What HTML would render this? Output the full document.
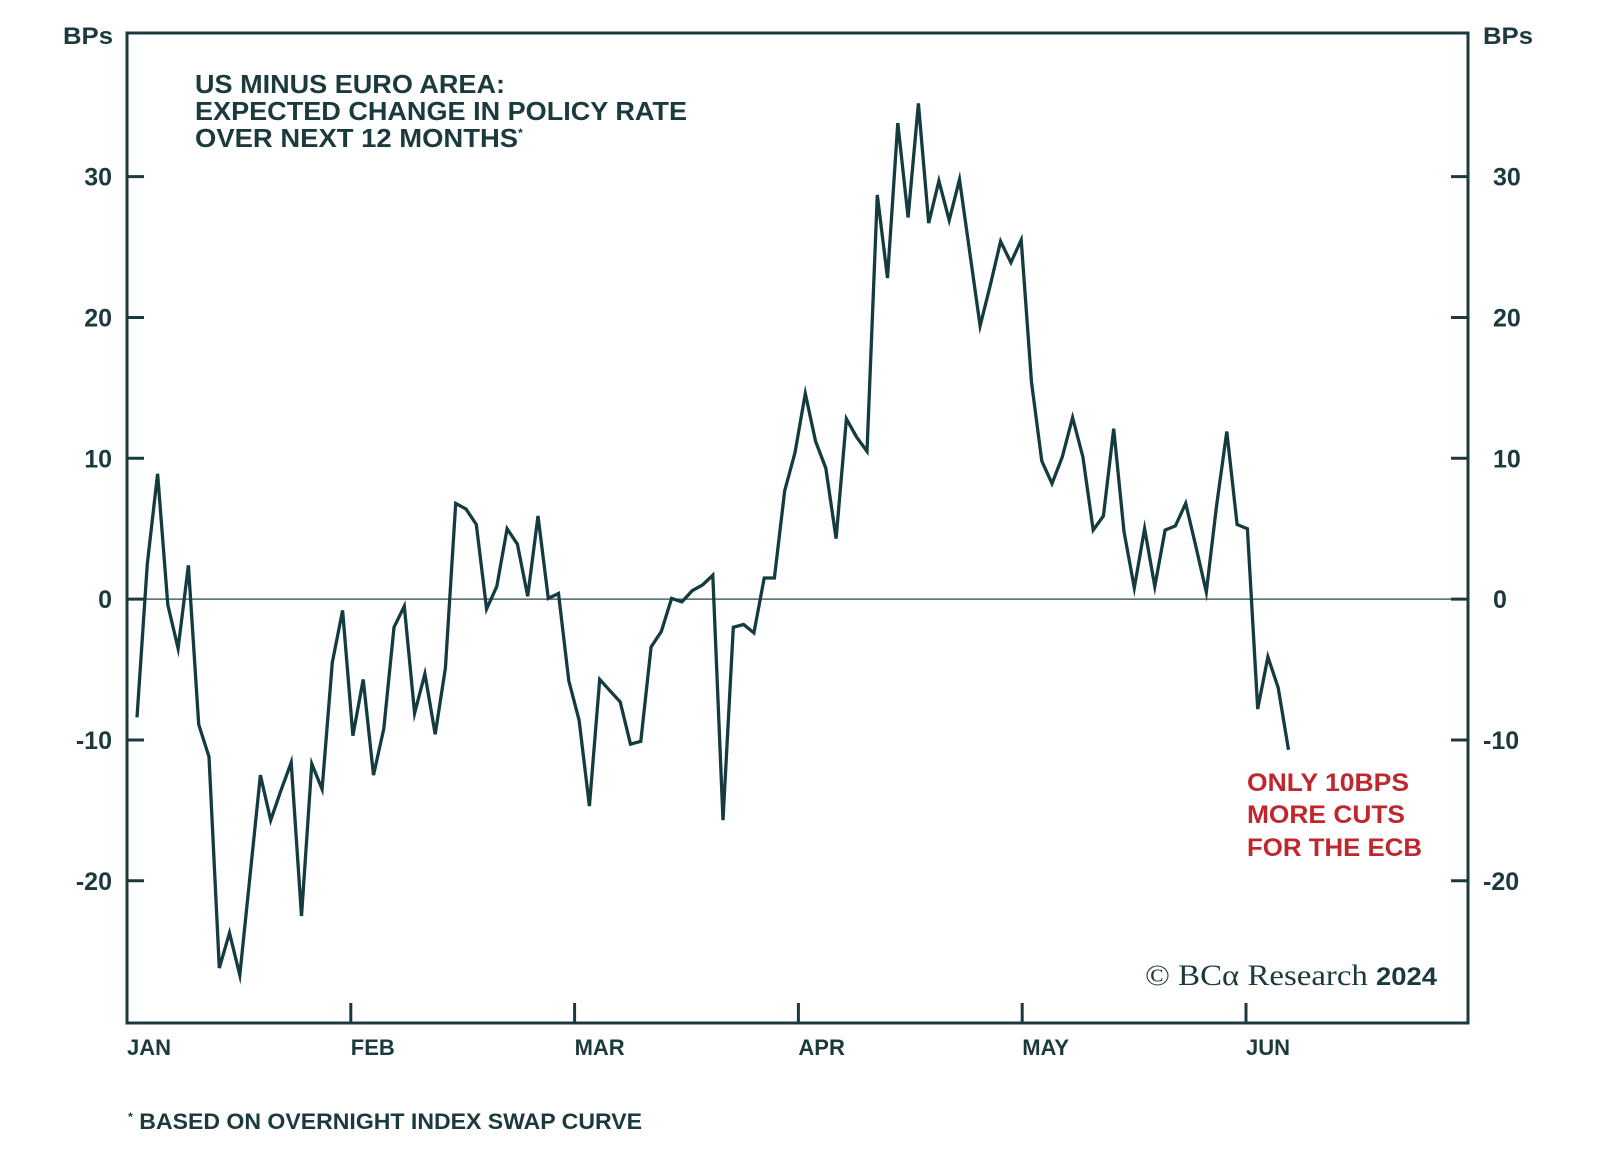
<!DOCTYPE html>
<html><head><meta charset="utf-8"><style>
html,body{margin:0;padding:0;background:#fff;}
svg{display:block;}
text{font-family:"Liberation Sans",sans-serif;fill:#1b3a3d;}
</style></head><body>
<svg id="chart" width="1600" height="1160" viewBox="0 0 1600 1160" xmlns="http://www.w3.org/2000/svg">
<g id="axes"></g>
<g id="series"></g>
<text x="195" y="93" font-size="26" font-weight="bold" textLength="310" lengthAdjust="spacingAndGlyphs">US MINUS EURO AREA:</text>
<text x="195" y="120" font-size="26" font-weight="bold" textLength="492" lengthAdjust="spacingAndGlyphs">EXPECTED CHANGE IN POLICY RATE</text>
<text x="195" y="147" font-size="26" font-weight="bold" textLength="328" lengthAdjust="spacingAndGlyphs">OVER NEXT 12 MONTHS<tspan font-size="12" dy="-10">*</tspan></text>
<text x="63" y="44" font-size="24" font-weight="bold" textLength="50" lengthAdjust="spacingAndGlyphs">BPs</text>
<text x="1483" y="44" font-size="24" font-weight="bold" textLength="50" lengthAdjust="spacingAndGlyphs">BPs</text>
<g>
<text x="1247" y="791" font-size="25" font-weight="bold" style="fill:#c0272d" textLength="162" lengthAdjust="spacingAndGlyphs">ONLY 10BPS</text>
<text x="1247" y="823" font-size="25" font-weight="bold" style="fill:#c0272d" textLength="158" lengthAdjust="spacingAndGlyphs">MORE CUTS</text>
<text x="1247" y="856" font-size="25" font-weight="bold" style="fill:#c0272d" textLength="175" lengthAdjust="spacingAndGlyphs">FOR THE ECB</text>
</g>
<text x="1145" y="985" font-size="30" style="font-family:'Liberation Serif',serif" textLength="292" lengthAdjust="spacingAndGlyphs">© BCα Research <tspan font-family="Liberation Sans" font-weight="bold" font-size="25">2024</tspan></text>
<text x="128" y="1129" font-size="22" font-weight="bold" textLength="514" lengthAdjust="spacingAndGlyphs"><tspan font-size="12" dy="-8">*</tspan><tspan dy="8"> BASED ON OVERNIGHT INDEX SWAP CURVE</tspan></text>
</svg>
<script>
const values = [
-8.4, 2.5, 8.9, -0.4, -3.5, 2.4, -8.9, -11.2, -26.2, -23.7, -26.7, -19.6, -12.5, -15.7, -13.6, -11.6, -22.5, -11.7, -13.5, -4.5, -0.8, -9.7, -5.7, -12.5, -9.2, -2.0, -0.5, -8.1, -5.3, -9.6, -4.9, 6.8,
6.4, 5.3, -0.7, 0.9, 5.0, 3.9, 0.2, 5.9, 0.05, 0.4, -5.8, -8.6, -14.7, -5.7, -6.5, -7.3, -10.3, -10.1, -3.4, -2.3, 0.05, -0.2, 0.6, 1.0, 1.7, -15.7, -2.0, -1.8, -2.4, 1.5, 1.5,
7.7, 10.4, 14.6, 11.2, 9.3, 4.3, 12.8, 11.5, 10.5, 28.7, 22.8, 33.8, 27.1, 35.2, 26.7, 29.7, 26.9, 29.8, 24.6, 19.4, 22.3, 25.4, 23.9, 25.5,
15.4, 9.8, 8.2, 10.1, 12.9, 10.1, 4.9, 5.9, 12.1, 4.8, 0.8, 5.0, 0.9, 4.9, 5.2, 6.8, 3.7, 0.5, 6.6, 11.9, 5.3, 5.0, -7.8, -4.1, -6.3, -10.7
];
const monthLabels = ["JAN","FEB","MAR","APR","MAY","JUN"];
const monthIndex = [0, 1, 2, 3, 4, 5];
const yTicks = [-20, -10, 0, 10, 20, 30];
const yTickLabels = ["-20","-10","0","10","20","30"];

const L=127, R=1468, T=33, B=1023;
const Y0=40.2, Y1=-30.1;
function y(v){ return T + (Y0 - v) / (Y0 - Y1) * (B - T); }
function xMonth(m){ return L + m * 223.8; }
function xIdx(i){ return 137 + i * (1288.5 - 137) / (values.length - 1); }

const NS="http://www.w3.org/2000/svg";
const axes=document.getElementById('axes');
const series=document.getElementById('series');
function mk(tag, attrs, parent){ const e=document.createElementNS(NS,tag); for(const k in attrs) e.setAttribute(k,attrs[k]); parent.appendChild(e); return e; }
const C="#1b3a3d";

let z=mk('line',{x1:L,x2:R,y1:y(0),y2:y(0),stroke:"#4a6568","stroke-width":1.6},axes);



yTicks.forEach((v,i)=>{
  const tl=mk('line',{x1:L,x2:L+17,y1:y(v),y2:y(v),stroke:C,"stroke-width":3},axes);
  
  
  const tr=mk('line',{x1:R-17,x2:R,y1:y(v),y2:y(v),stroke:C,"stroke-width":3},axes);
  
  
  const a=mk('text',{x:112,y:y(v)+9,"font-size":25,"font-weight":"bold","text-anchor":"end"},axes);
  a.textContent=yTickLabels[i];
  
  
  const b=mk('text',{x:v<0?1483:1493,y:y(v)+9,"font-size":25,"font-weight":"bold"},axes);
  b.textContent=yTickLabels[i];
  
  
});

monthIndex.forEach((m,i)=>{
  if(m>0){
    const t=mk('line',{x1:xMonth(m),x2:xMonth(m),y1:B-20,y2:B,stroke:C,"stroke-width":3},axes);
    
    
  }
  const lb=mk('text',{x:xMonth(m),y:1055,"font-size":22,"font-weight":"bold"},axes);
  lb.textContent=monthLabels[i];
  
  
});

const fr=mk('rect',{x:L,y:T,width:R-L,height:B-T,fill:"none",stroke:C,"stroke-width":3},axes);



const pts=values.map((v,i)=>xIdx(i).toFixed(1)+","+y(v).toFixed(1)).join(" ");
const pl=mk('polyline',{points:pts,fill:"none",stroke:"#143c40","stroke-width":3.3,"stroke-linejoin":"miter","stroke-miterlimit":6},series);


</script>
</body></html>
